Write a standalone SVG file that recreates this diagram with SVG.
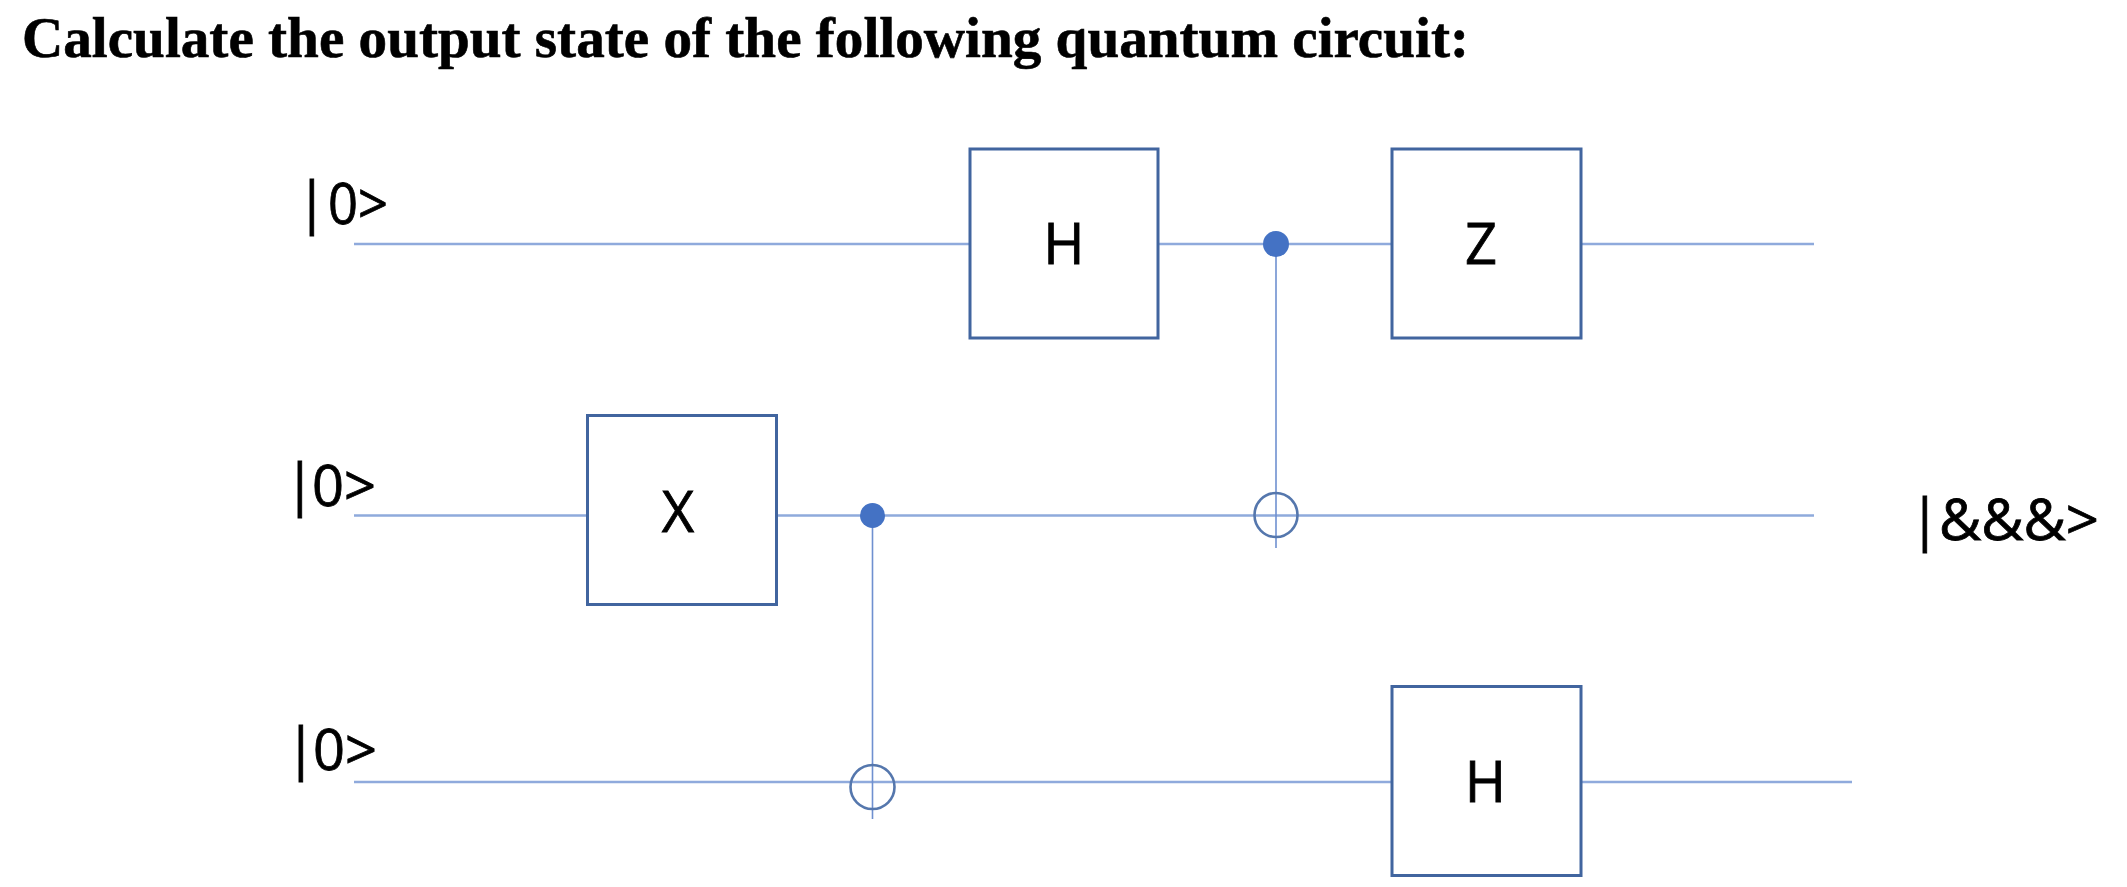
<svg xmlns="http://www.w3.org/2000/svg" width="2127" height="887" viewBox="0 0 2127 887">
<style>
.title{font-family:"Liberation Serif","Times New Roman",serif;font-weight:bold;font-size:56px;fill:#000;stroke:#000;stroke-width:0.6}
.t{font-family:"Open Sans","Noto Sans",sans-serif;font-size:56px;fill:#000;stroke:#000;stroke-width:0.8}
.gate{fill:#fff;stroke:#41659f;stroke-width:3}
.wire{stroke:#8faadc;stroke-width:2.4;fill:none}
.ctl{stroke:#6f90d0;stroke-width:1.6;fill:none}
.dot{fill:#4472c4}
.ring{fill:none;stroke:#5577ad;stroke-width:2.6}
</style>
<rect width="2127" height="887" fill="#fff"/>
<text id="title" class="title" x="22" y="57" textLength="1447" lengthAdjust="spacingAndGlyphs">Calculate the output state of the following quantum circuit:</text>
<g id="connectors">
<path class="wire" d="M354 244H970M1158 244H1392M1581 244H1814"/>
<path class="wire" d="M354 515.500H587M776 515.500H1814"/>
<path class="wire" d="M354 782H1392M1581 782H1852"/>
<path class="ctl" d="M1276 244V548"/>
<path class="ctl" d="M872.500 515V819"/>
</g>
<g id="in1"><text class="t" y="222"><tspan x="296.500">|</tspan><tspan x="328" dy="2" textLength="60" lengthAdjust="spacingAndGlyphs">0&gt;</tspan></text></g>
<g id="in2"><text class="t" y="504"><tspan x="284.500">|</tspan><tspan x="312" dy="2" textLength="64" lengthAdjust="spacingAndGlyphs">0&gt;</tspan></text></g>
<g id="in3"><text class="t" y="768"><tspan x="285.500">|</tspan><tspan x="313" dy="2" textLength="64" lengthAdjust="spacingAndGlyphs">0&gt;</tspan></text></g>
<g id="out"><text class="t" y="539"><tspan x="1909.500">|</tspan><tspan x="1939" dy="1" textLength="160" lengthAdjust="spacingAndGlyphs">&amp;&amp;&amp;&gt;</tspan></text></g>
<g id="gateH1"><rect class="gate" x="970" y="149" width="188" height="189"/><text class="t" x="1064" y="264" text-anchor="middle">H</text></g>
<g id="gateZ"><rect class="gate" x="1392" y="149" width="189" height="189"/><text class="t" x="1481" y="264" text-anchor="middle">Z</text></g>
<g id="gateX"><rect class="gate" x="587.500" y="415.500" width="189" height="189"/><text class="t" x="678" y="532" text-anchor="middle">X</text></g>
<g id="gateH2"><rect class="gate" x="1392" y="686.500" width="189" height="189"/><text class="t" x="1485.500" y="802" text-anchor="middle">H</text></g>
<g id="cnot1-control"><circle class="dot" cx="872.500" cy="515.500" r="12.500"/></g>
<g id="cnot1-target"><ellipse class="ring" cx="872.500" cy="787" rx="22" ry="22"/></g>
<g id="cnot2-control"><circle class="dot" cx="1276" cy="244" r="13"/></g>
<g id="cnot2-target"><ellipse class="ring" cx="1276" cy="515" rx="21.500" ry="22"/></g>
</svg>
